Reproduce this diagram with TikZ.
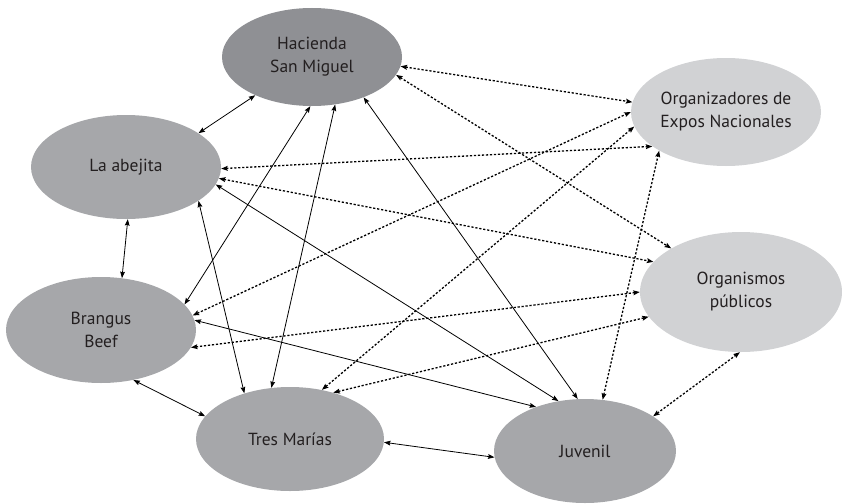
\documentclass[tikz,border=0pt]{standalone}
\usepackage{fontspec}
\setmainfont{PT Sans}
\usetikzlibrary{shapes.geometric,arrows.meta}
\definecolor{dk}{HTML}{8F9094}
\definecolor{md}{HTML}{A6A7AA}
\definecolor{lt}{HTML}{D1D2D4}
\definecolor{tx}{HTML}{231F20}
\tikzset{
  actor/.style={ellipse, inner sep=0pt, draw=none, text=tx, align=center,
    font=\fontsize{17.5}{23}\selectfont},
  link/.style={{Stealth[length=6.5pt,width=4.8pt,inset=1pt]}-{Stealth[length=6.5pt,width=4.8pt,inset=1pt]}, line width=0.8pt, black},
  dlink/.style={link, line width=1.3pt, dash pattern=on 2.2pt off 1.8pt},
}
\begin{document}
\begin{tikzpicture}[x=1pt,y=-1pt]
\useasboundingbox (0,0) rectangle (842,503);
\node[actor, fill=dk, minimum width=180pt, minimum height=98pt] (H) at (312,57) {Hacienda\\San Miguel};
\node[actor, fill=md, minimum width=190pt, minimum height=104pt] (LA) at (126,167) {La abejita};
\node[actor, fill=md, minimum width=190pt, minimum height=106pt] (BB) at (101,330) {Brangus\\Beef};
\node[actor, fill=md, minimum width=188pt, minimum height=104pt] (TM) at (290,439) {Tres Marías};
\node[actor, fill=md, minimum width=182pt, minimum height=104pt] (J) at (585,451) {Juvenil};
\node[actor, fill=lt, minimum width=190pt, minimum height=108pt] (OE) at (726,112) {Organizadores de\\Expos Nacionales};
\node[actor, fill=lt, minimum width=202pt, minimum height=120pt] (OP) at (741,292) {Organismos\\públicos};
% solid links
\draw[link] (H.214.8) -- (LA.25.9);
\draw[link] (H.268) -- (BB.17.8);
\draw[link] (H.296) -- (TM.110.9);
\draw[link] (H.322.8) -- (J.98.4);
\draw[link] (LA.272) -- (BB.68);
\draw[link] (LA.335.6) -- (TM.135);
\draw[link] (LA.349.5) -- (J.118.4);
\draw[link] (BB.6.7) -- (J.138);
\draw[link] (BB.303.2) -- (TM.165.8);
\draw[link] (TM.358.8) -- (J.184.4);
% dotted links
\draw[dlink] (H.354.4) -- (OE.174.4);
\draw[dlink] (H.348.4) -- (OP.148.4);
\draw[dlink] (LA.359.4) -- (OE.205);
\draw[dlink] (LA.353.5) -- (OP.161.6);
\draw[dlink] (BB.9) -- (OE.180.6);
\draw[dlink] (BB.349.5) -- (OP.180.6);
\draw[dlink] (TM.57.6) -- (OE.189.5);
\draw[dlink] (TM.47.5) -- (OP.195.5);
\draw[dlink] (J.71.2) -- (OE.210.6);
\draw[dlink] (J.27.9) -- (OP.269);
\end{tikzpicture}
\end{document}
